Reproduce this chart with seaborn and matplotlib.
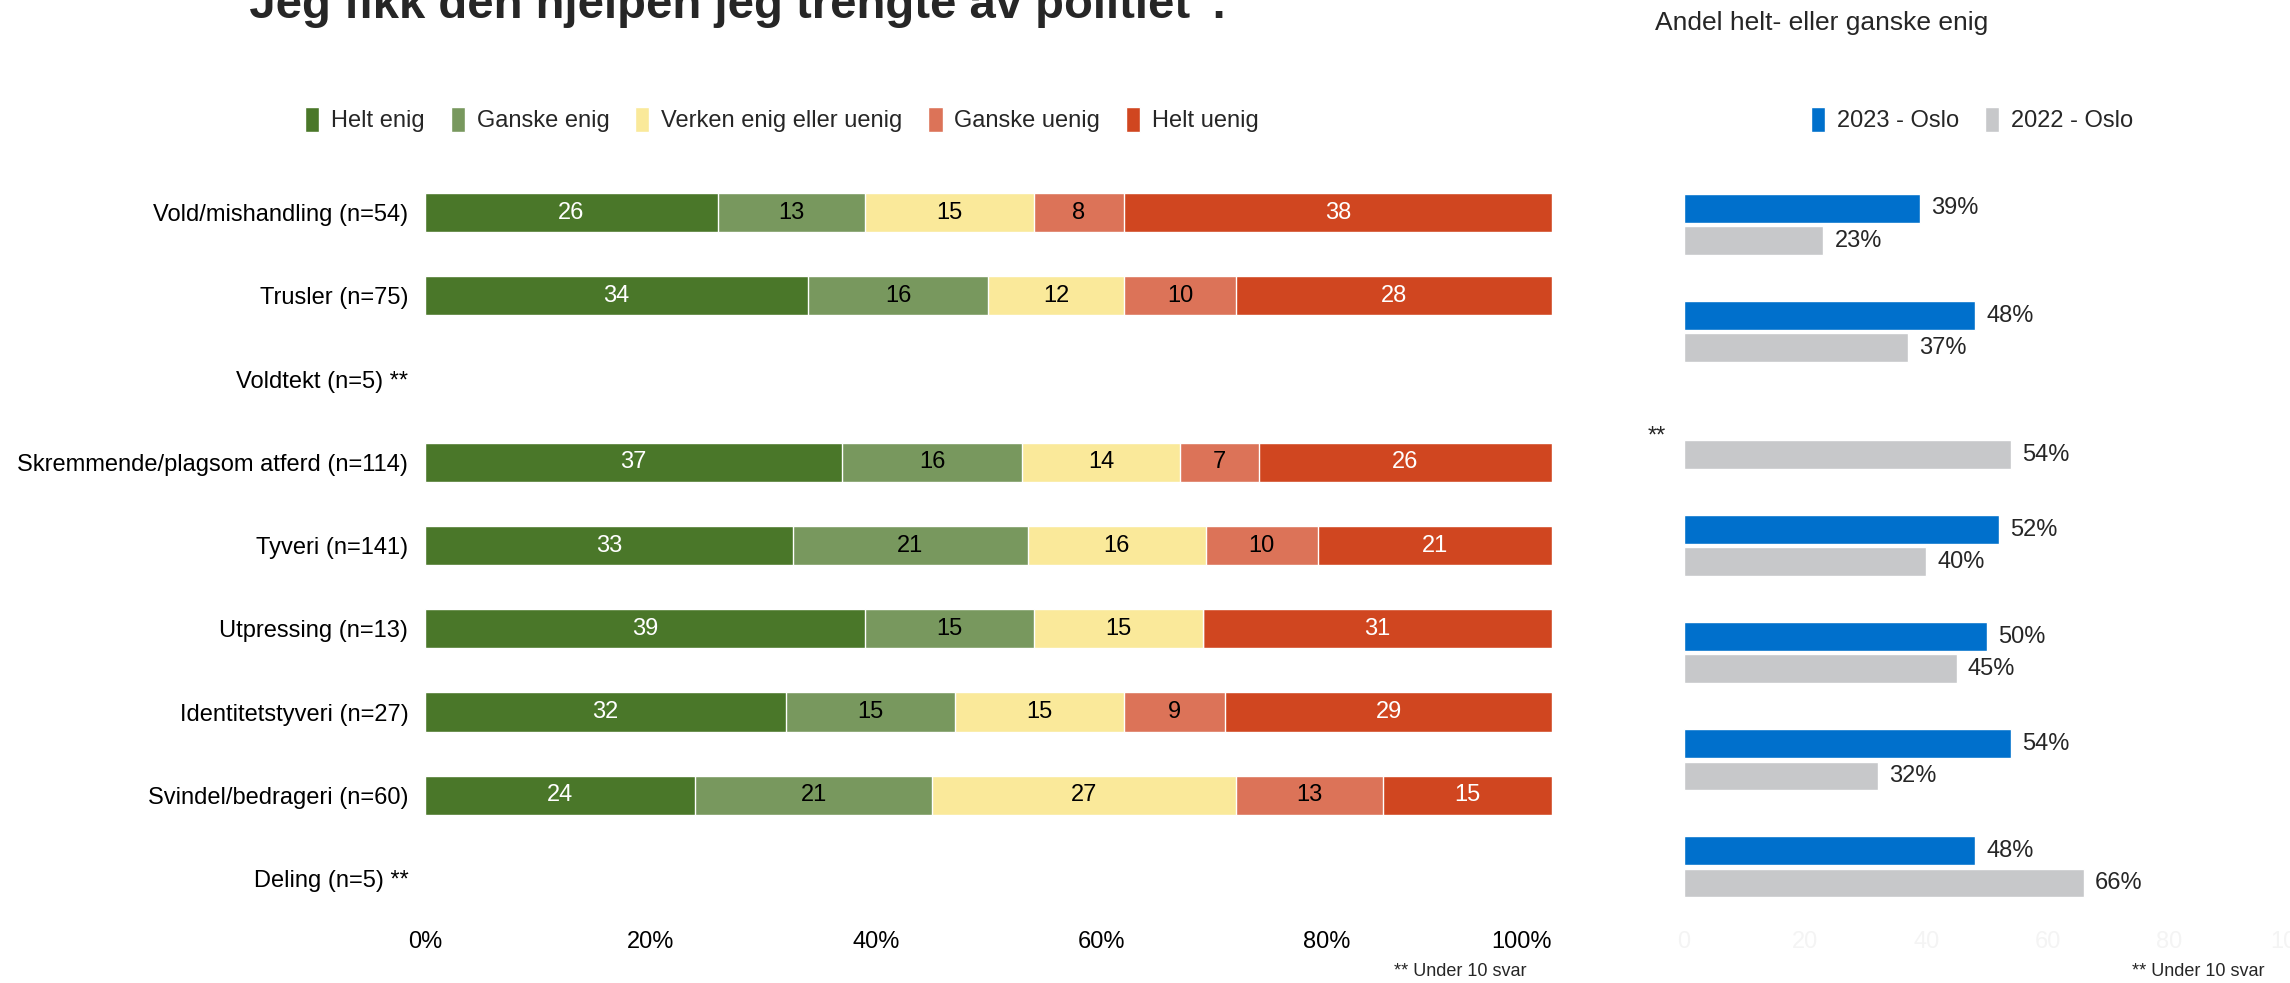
import pandas as pd
import matplotlib.pyplot as plt
import seaborn as sns

# Data - venstre panel (prosentfordeling)
kategorier = ["Vold/mishandling (n=54)", "Trusler (n=75)", "Voldtekt (n=5) **",
              "Skremmende/plagsom atferd (n=114)", "Tyveri (n=141)", "Utpressing (n=13)",
              "Identitetstyveri (n=27)", "Svindel/bedrageri (n=60)", "Deling (n=5) **"]
svar = ["Helt enig", "Ganske enig", "Verken enig eller uenig", "Ganske uenig", "Helt uenig"]
helt_enig = [26, 34, None, 37, 33, 39, 32, 24, None]
ganske_enig = [13, 16, None, 16, 21, 15, 15, 21, None]
verken = [15, 12, None, 14, 16, 15, 15, 27, None]
ganske_uenig = [8, 10, None, 7, 10, 0, 9, 13, None]
helt_uenig = [38, 28, None, 26, 21, 31, 29, 15, None]
farger = ["#4a7729", "#78985e", "#fae99a", "#dc7358", "#d04620"]
tekstfarger = ["white", "black", "black", "black", "white"]

# Data - høyre panel (andel helt- eller ganske enig)
grupper = ["g1", "g2", "g3", "g4", "g5", "g6", "g7"]
oslo_2023 = [39, 48, None, 52, 50, 54, 48]
oslo_2022 = [23, 37, 54, 40, 45, 32, 66]
aar = ["2023 - Oslo", "2022 - Oslo"]
aar_farger = ["#0070cc", "#c7c8ca"]

sns.set_theme(style="white")
plt.rcParams["font.family"] = ["Liberation Sans", "DejaVu Sans"]
fs = 17

df = pd.DataFrame({"kategori": kategorier, svar[0]: helt_enig, svar[1]: ganske_enig,
                   svar[2]: verken, svar[3]: ganske_uenig, svar[4]: helt_uenig})
df = df.dropna().reset_index(drop=True)
tot = df[svar].sum(axis=1)
andel = df[svar].div(tot, axis=0) * 100
kum = andel.cumsum(axis=1)

fig = plt.figure(figsize=(22.9, 9.83), dpi=100)
ax1 = fig.add_axes([0.1856, 0.064, 0.4921, 0.762])
ax2 = fig.add_axes([0.7354, 0.064, 0.2646, 0.762])

# Stablede søyler: tegn kumulativt bakfra
for i in range(len(svar) - 1, -1, -1):
    sns.barplot(x=kum[svar[i]], y=df["kategori"], order=kategorier, color=farger[i],
                saturation=1, width=0.47, orient="h", ax=ax1, label=svar[i])

for r in range(len(df)):
    ypos = kategorier.index(df.loc[r, "kategori"])
    for i, s in enumerate(svar):
        v = df.loc[r, s]
        if v > 0:
            ax1.text(kum.loc[r, s] - andel.loc[r, s] / 2, ypos, f"{v:.0f}", ha="center",
                     va="center", fontsize=fs, color=tekstfarger[i])

ax1.set_xlim(0, 100)
ax1.set_ylim(len(kategorier) - 0.5, -0.5)
ax1.set_xticks([0, 20, 40, 60, 80, 100])
ax1.set_xticklabels(["0%", "20%", "40%", "60%", "80%", "100%"])
ax1.get_xticklabels()[-1].set_ha("right")
ax1.set_xlabel("")
ax1.set_ylabel("")
ax1.tick_params(axis="both", labelsize=fs, length=0, colors="black")
ax1.tick_params(axis="y", pad=12)
ax1.tick_params(axis="x", pad=8)
sns.despine(ax=ax1, left=True, bottom=True)
if ax1.legend_:
    ax1.legend_.remove()

h, l = ax1.get_legend_handles_labels()
fig.legend(h[::-1], l[::-1], loc="center", bbox_to_anchor=(0.3415, 0.878), ncol=5,
           frameon=False, fontsize=fs, handlelength=0.6, handleheight=1.2,
           handletextpad=0.5, columnspacing=1.1)

# Høyre panel
rdf = pd.DataFrame({"gruppe": grupper * 2, "aar": [aar[0]] * 7 + [aar[1]] * 7,
                    "verdi": oslo_2023 + oslo_2022}).dropna()
sns.barplot(data=rdf, x="verdi", y="gruppe", hue="aar", order=grupper, hue_order=aar,
            palette=aar_farger, saturation=1, width=0.6, gap=0.12, orient="h", ax=ax2)
for c in ax2.containers:
    ax2.bar_label(c, fmt="{:.0f}%", padding=8, fontsize=fs)
ax2.text(-3, 2 - 0.02, "**", ha="right", va="center", fontsize=fs)
ax2.set_xlim(0, 100)
ax2.set_ylim(len(grupper) - 0.5, -0.5)
ax2.set_xticks([0, 20, 40, 60, 80, 100])
ax2.set_yticks([])
ax2.set_xlabel("")
ax2.set_ylabel("")
ax2.tick_params(axis="x", labelsize=fs, length=0, colors="#f4f4f4", pad=8)
sns.despine(ax=ax2, left=True, bottom=True)
h2, l2 = ax2.get_legend_handles_labels()
ax2.legend_.remove()
fig.legend(h2, l2, loc="center", bbox_to_anchor=(0.861, 0.878), ncol=2, frameon=False,
           fontsize=fs, handlelength=0.6, handleheight=1.2, handletextpad=0.5,
           columnspacing=1.1)

fig.text(0.099, 1 - 18 / 983, "\"Jeg fikk den hjelpen jeg trengte av politiet\".",
         ha="left", va="baseline", fontsize=34, fontweight="bold")
fig.text(1655 / 2290, 1 - 23 / 983, "Andel helt- eller ganske enig", ha="left",
         va="center", fontsize=19)
fig.text(1460 / 2290, 1 - 971 / 983, "** Under 10 svar", ha="center", va="center",
         fontsize=13)
fig.text(2198 / 2290, 1 - 971 / 983, "** Under 10 svar", ha="center", va="center",
         fontsize=13)

fig.savefig("out.png", dpi=100)
